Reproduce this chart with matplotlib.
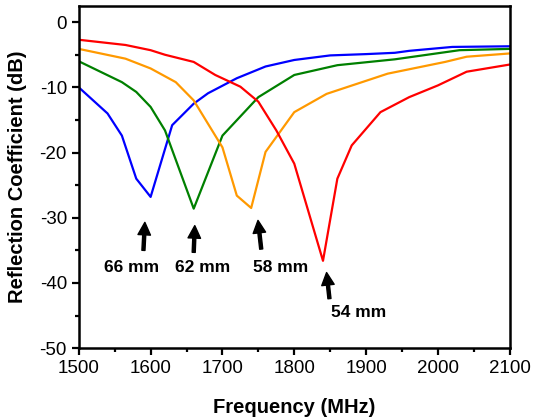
import matplotlib.pyplot as plt
from matplotlib.ticker import MultipleLocator

plt.rcParams['font.family'] = ['Liberation Sans', 'DejaVu Sans']
plt.rcParams['axes.unicode_minus'] = False

# ── Dados ────────────────────────────────────────────────────────────────────
freq_66 = [1500, 1540, 1560, 1580, 1600, 1630, 1660, 1680, 1720, 1760, 1800, 1850, 1900, 1940, 1960, 2020, 2100]
s11_66  = [-10, -14, -17.4, -24, -26.8, -15.8, -12.5, -10.9, -8.6, -6.8, -5.8, -5.1, -4.9, -4.7, -4.4, -3.8, -3.7]

freq_62 = [1500, 1560, 1580, 1600, 1620, 1660, 1700, 1750, 1800, 1860, 1940, 2030, 2100]
s11_62  = [-6.0, -9.2, -10.7, -13.0, -16.6, -28.6, -17.4, -11.5, -8.1, -6.6, -5.7, -4.3, -4.1]

freq_58 = [1500, 1565, 1600, 1635, 1660, 1680, 1700, 1720, 1740, 1760, 1800, 1845, 1930, 2010, 2040, 2100]
s11_58  = [-4.1, -5.6, -7.1, -9.2, -12.0, -15.6, -19.2, -26.6, -28.5, -19.9, -13.8, -11.0, -7.9, -6.1, -5.3, -4.8]

freq_54 = [1500, 1565, 1600, 1620, 1660, 1690, 1725, 1750, 1775, 1800, 1840, 1860, 1880, 1920, 1960, 2000, 2040, 2100]
s11_54  = [-2.7, -3.5, -4.3, -5.0, -6.1, -8.1, -9.9, -12.2, -16.6, -21.7, -36.6, -24.0, -18.9, -13.8, -11.5, -9.7, -7.6, -6.5]

rotulos    = ['66 mm', '62 mm', '58 mm', '54 mm']
seta_ponta = [(1592, -30.7), (1661.5, -31.2), (1749.5, -30.4), (1845, -38.4)]
seta_cauda = [(1590, -35.0), (1660, -35.3), (1754, -34.8), (1849, -42.4)]
texto_pos  = [(1574, -37.6), (1672, -37.6), (1781, -37.6), (1889, -44.6)]

# ── Gráfico ───────────────────────────────────────────────────────────────────
fig = plt.figure(figsize=(5.36, 4.18), dpi=100)
ax = fig.add_axes([0.147, 0.167, 0.804, 0.819])

ax.plot(freq_66, s11_66, color='#0000ff', lw=1.6)
ax.plot(freq_62, s11_62, color='#008000', lw=1.6)
ax.plot(freq_58, s11_58, color='#ff9900', lw=1.6)
ax.plot(freq_54, s11_54, color='#ff0000', lw=1.6)

for rot, ponta, cauda, pos in zip(rotulos, seta_ponta, seta_cauda, texto_pos):
    ax.annotate('', xy=ponta, xytext=cauda,
                arrowprops=dict(facecolor='black', edgecolor='black',
                                width=2.2, headwidth=9, headlength=9, shrink=0))
    ax.text(pos[0], pos[1], rot, ha='center', va='center',
            fontsize=12.5, fontweight='bold')

ax.set_xlim(1500, 2100)
ax.set_ylim(-50, 2.5)
ax.xaxis.set_major_locator(MultipleLocator(100))
ax.xaxis.set_minor_locator(MultipleLocator(50))
ax.yaxis.set_major_locator(MultipleLocator(10))
ax.yaxis.set_minor_locator(MultipleLocator(5))

ax.tick_params(which='both', direction='out', top=False, right=False, width=1.6)
ax.tick_params(which='major', length=5, labelsize=13.5)
ax.tick_params(which='minor', length=3)
for sp in ax.spines.values():
    sp.set_linewidth(1.8)

ax.set_xlabel('Frequency (MHz)', fontsize=14.5, fontweight='bold', labelpad=15)
ax.set_ylabel('Reflection Coefficient (dB)', fontsize=14.5, fontweight='bold', labelpad=9)

plt.savefig('out.png', dpi=100)
